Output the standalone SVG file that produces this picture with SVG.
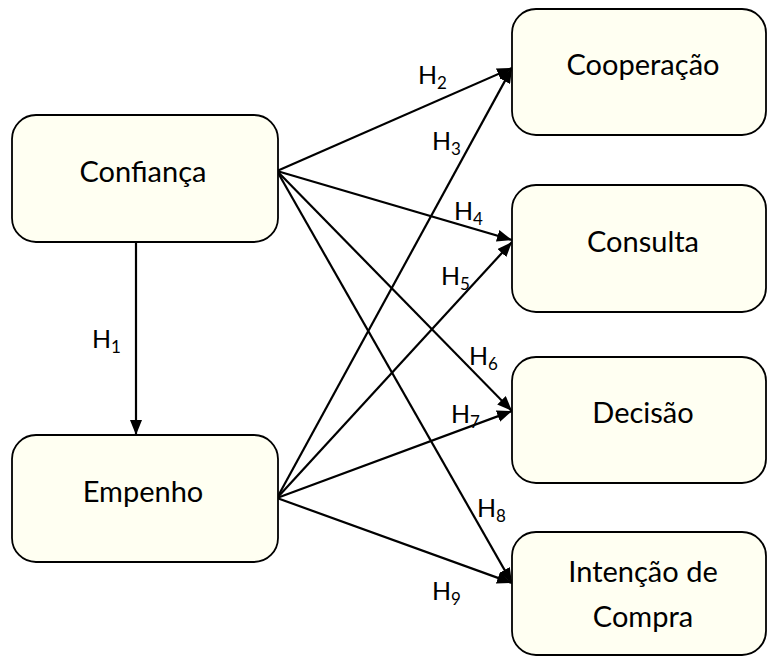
<svg xmlns="http://www.w3.org/2000/svg" width="767" height="657" viewBox="0 0 767 657">
<style>
.box{fill:#FFFFF2;stroke:#000;stroke-width:1.8}
.t{font-family:Lato,"Open Sans",sans-serif;font-size:29px;fill:#000;text-anchor:middle}
.h{font-family:Lato,"Open Sans",sans-serif;font-size:25px;fill:#000}
.s{font-size:17px}
.c{stroke:#000;stroke-width:2.2;fill:none;marker-end:url(#ah)}
</style>
<defs>
<marker id="ah" markerUnits="userSpaceOnUse" markerWidth="16" markerHeight="12" refX="15" refY="6" orient="auto">
<path d="M0,0 L15,6 L0,12 z" fill="#000"/>
</marker>
</defs>
<g id="connectors">
<line class="c" x1="136" y1="242" x2="136" y2="435"/>
<line class="c" x1="277" y1="171" x2="512" y2="68"/>
<line class="c" x1="277" y1="171" x2="512" y2="240"/>
<line class="c" x1="277" y1="171" x2="512" y2="411"/>
<line class="c" x1="277" y1="171" x2="512" y2="583"/>
<line class="c" x1="277" y1="498" x2="512" y2="68"/>
<line class="c" x1="277" y1="498" x2="512" y2="242"/>
<line class="c" x1="277" y1="498" x2="512" y2="411"/>
<line class="c" x1="277" y1="498" x2="512" y2="583"/>
</g>
<g id="labels">
<text class="h" x="92" y="348">H<tspan class="s" dy="5">1</tspan></text>
<text class="h" x="418" y="84">H<tspan class="s" dy="5">2</tspan></text>
<text class="h" x="432" y="150">H<tspan class="s" dy="5">3</tspan></text>
<text class="h" x="454" y="220">H<tspan class="s" dy="5">4</tspan></text>
<text class="h" x="441" y="285">H<tspan class="s" dy="5">5</tspan></text>
<text class="h" x="469" y="365">H<tspan class="s" dy="5">6</tspan></text>
<text class="h" x="451" y="423">H<tspan class="s" dy="5">7</tspan></text>
<text class="h" x="477" y="517">H<tspan class="s" dy="5">8</tspan></text>
<text class="h" x="432" y="600">H<tspan class="s" dy="5">9</tspan></text>
</g>
<g id="confianca">
<rect class="box" x="12" y="115" width="266" height="127" rx="24"/>
<text class="t" x="143" y="182">Confiança</text>
</g>
<g id="empenho">
<rect class="box" x="12" y="435" width="266" height="127" rx="24"/>
<text class="t" x="143" y="502">Empenho</text>
</g>
<g id="cooperacao">
<rect class="box" x="512" y="9" width="254" height="126" rx="24"/>
<text class="t" x="643" y="75">Cooperação</text>
</g>
<g id="consulta">
<rect class="box" x="512" y="185" width="254" height="127" rx="24"/>
<text class="t" x="643" y="252">Consulta</text>
</g>
<g id="decisao">
<rect class="box" x="512" y="357" width="254" height="126" rx="24"/>
<text class="t" x="643" y="423">Decisão</text>
</g>
<g id="intencao">
<rect class="box" x="512" y="532" width="254" height="123" rx="24"/>
<text class="t" x="643" y="582">Intenção de</text>
<text class="t" x="643" y="627">Compra</text>
</g>
</svg>
